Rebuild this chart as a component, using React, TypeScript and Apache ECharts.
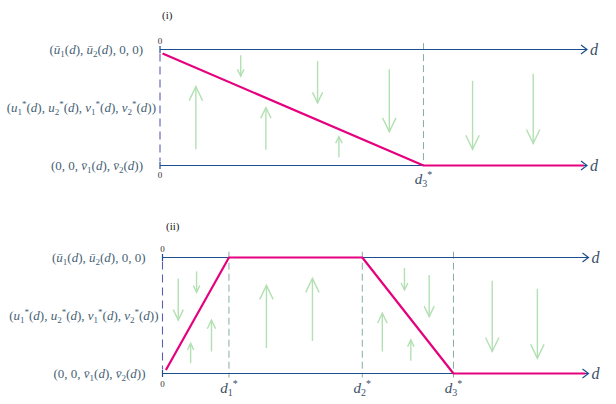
import React, { useEffect, useRef } from 'react';
import * as echarts from 'echarts';

// ---- data ----
const panelTitles = ['(i)', '(ii)'];
// state labels for y = 0, 0.5, 1
const stateLabels = [
  '(0, 0, v\u0304_1(d), v\u0304_2(d))',
  '(u_1^*(d), u_2^*(d), v_1^*(d), v_2^*(d))',
  '(\u016B_1(d), \u016B_2(d), 0, 0)',
];
const axisLevels = [0, 1];
const thresholdsI = [61.7];
const thresholdLabelsI = ['d_3^*'];
const thresholdsII = [15.6, 46.9, 68.3];
const thresholdLabelsII = ['d_1^*', 'd_2^*', 'd_3^*'];
const pathI = [[0.6, 0.966], [61.7, 0], [99.3, 0]];
const pathII = [[0.8, 0.03], [15.6, 1], [46.9, 1], [68.3, 0], [99.3, 0]];
// [x, from, to]
const arrowsI = [
  [8.4, 0.14, 0.68], [18.9, 0.95, 0.77], [24.8, 0.135, 0.5], [36.9, 0.9, 0.54],
  [41.9, 0.07, 0.25], [53.7, 0.83, 0.29], [73.2, 0.73, 0.14], [87.4, 0.79, 0.19],
];
const arrowsII = [
  [3.7, 0.82, 0.46], [8.0, 0.88, 0.7], [6.6, 0.09, 0.26], [11.5, 0.19, 0.46],
  [24.4, 0.22, 0.76], [35.2, 0.28, 0.82], [56.8, 0.91, 0.72], [62.6, 0.85, 0.49],
  [51.6, 0.19, 0.52], [58.3, 0.11, 0.29], [77.4, 0.8, 0.19], [88.0, 0.73, 0.13],
];

const SERIF = '"Liberation Serif", "DejaVu Serif", serif';
const LABEL_C = '#465f74';
const AXIS_C = '#1d4f8e';
const GREEN = '#b3e0b3';
const MAGENTA = '#e6007e';

function tex(s: string): string {
  let out = '';
  let i = 0;
  const push = (st: string, t: string) => { out += '{' + st + '|' + t + '}'; };
  const isLetter = (c: string) => /[A-Za-z\u016B]/.test(c);
  while (i < s.length) {
    const c = s[i];
    if (c === '_') { push('sub', s[i + 1]); i += 2; continue; }
    if (c === '^') { push('sup', s[i + 1]); i += 2; continue; }
    if (isLetter(c)) {
      let t = c;
      if (s[i + 1] === '\u0304') { t += s[i + 1]; i++; }
      push('it', t); i++; continue;
    }
    let t = '';
    while (i < s.length && !isLetter(s[i]) && s[i] !== '_' && s[i] !== '^') { t += s[i]; i++; }
    push('n', t);
  }
  return out;
}

function richStyles(size: number, color: string, sub: number) {
  return {
    n: { fontFamily: SERIF, fontSize: size, color, lineHeight: size + 4 },
    it: { fontFamily: SERIF, fontSize: size, fontStyle: 'italic', color, lineHeight: size + 4 },
    sub: { fontFamily: SERIF, fontSize: sub, color, lineHeight: sub + 1, verticalAlign: 'bottom' },
    sup: { fontFamily: SERIF, fontSize: sub, color, lineHeight: sub + 1, verticalAlign: 'top' },
    z: { fontFamily: SERIF, fontSize: 9, color: '#333', lineHeight: 10 },
    gap: { width: 13, fontSize: size, lineHeight: size + 4 },
  };
}

const grids = [
  { left: 160, top: 49.5, width: 427, height: 116 },
  { left: 162.5, top: 257.5, width: 426, height: 116 },
];

export default function App() {
  const ref = useRef<HTMLDivElement>(null);
  useEffect(() => {
    if (!ref.current) return;
    const chart = echarts.init(ref.current, null, { renderer: 'svg' });
    const thresholds = [thresholdsI, thresholdsII];
    const thresholdLabels = [thresholdLabelsI, thresholdLabelsII];
    const paths = [pathI, pathII];
    const arrows = [arrowsI, arrowsII];

    const xAxis: any[] = [];
    const yAxis: any[] = [];
    const series: any[] = [];
    grids.forEach((_, g) => {
      const th = thresholds[g];
      const thl = thresholdLabels[g];
      xAxis.push({
        gridIndex: g, type: 'value', min: 0, max: 100, position: 'bottom',
        axisLine: { show: false }, axisTick: { show: false }, splitLine: { show: false },
        name: 'd', nameLocation: 'end', nameGap: 3,
        nameTextStyle: { fontFamily: SERIF, fontStyle: 'italic', fontSize: 16, color: '#3b506a', verticalAlign: 'middle' },
        axisLabel: {
          customValues: [0, ...th], margin: g === 0 ? 4 : 5,
          formatter: (v: number) => (v === 0 ? '{z|0}' : tex(thl[th.indexOf(v)])),
          rich: richStyles(15, '#3b506a', 10),
        },
      });
      xAxis.push({
        gridIndex: g, type: 'value', min: 0, max: 100, position: 'top',
        axisLine: { show: false }, axisTick: { show: false }, splitLine: { show: false },
        name: 'd', nameLocation: 'end', nameGap: 3,
        nameTextStyle: { fontFamily: SERIF, fontStyle: 'italic', fontSize: 16, color: '#3b506a', verticalAlign: 'middle' },
        axisLabel: { customValues: [0], margin: 4, formatter: () => '{z|0}', rich: richStyles(14, '#333', 9) },
      });
      yAxis.push({
        gridIndex: g, type: 'value', min: 0, max: 1, interval: 0.5,
        axisLine: { show: false }, axisTick: { show: false }, splitLine: { show: false },
        axisLabel: {
          margin: 4,
          formatter: (v: number) => {
            const k = Math.round(v * 2);
            return tex(stateLabels[k]) + (k === 1 ? '' : '{gap| }');
          },
          rich: richStyles(13, LABEL_C, 9),
        },
      });
      const xi = g * 2;
      // threshold dashed lines
      series.push({
        type: 'custom', xAxisIndex: xi, yAxisIndex: g, z: 1,
        data: th.map((x) => [x, g === 0 ? 1.055 : 1.05, g === 0 ? 0 : -0.035]),
        renderItem: (_p: any, api: any) => {
          const a = api.coord([api.value(0), api.value(1)]);
          const b = api.coord([api.value(0), api.value(2)]);
          return { type: 'line', shape: { x1: a[0], y1: a[1], x2: b[0], y2: b[1] },
            style: { stroke: '#86ad9f', lineWidth: 1, lineDash: [7, 4] } };
        },
      });
      // left dashed line at x = 0
      series.push({
        type: 'custom', xAxisIndex: xi, yAxisIndex: g, z: 1,
        data: [[0, 1, 0]],
        renderItem: (_p: any, api: any) => {
          const a = api.coord([api.value(0), api.value(1)]);
          const b = api.coord([api.value(0), api.value(2)]);
          return { type: 'line', shape: { x1: a[0], y1: a[1] + 4, x2: b[0], y2: b[1] - 4 },
            style: { stroke: '#5a5fb5', lineWidth: 1.1, lineDash: [8, 5] } };
        },
      });
      // green arrows
      series.push({
        type: 'custom', xAxisIndex: xi, yAxisIndex: g, z: 2,
        data: arrows[g],
        renderItem: (_p: any, api: any) => {
          const p0 = api.coord([api.value(0), api.value(1)]);
          const p1 = api.coord([api.value(0), api.value(2)]);
          const len = Math.abs(p1[1] - p0[1]);
          const dir = p1[1] < p0[1] ? -1 : 1;
          const hl = Math.max(5, Math.min(14, 0.18 * len + 3));
          const hw = hl * 0.48;
          return {
            type: 'group',
            children: [
              { type: 'line', shape: { x1: p0[0], y1: p0[1], x2: p1[0], y2: p1[1] }, style: { stroke: GREEN, lineWidth: 1.4 } },
              { type: 'polyline', shape: { points: [[p1[0] - hw, p1[1] - dir * hl], [p1[0], p1[1]], [p1[0] + hw, p1[1] - dir * hl]] },
                style: { stroke: GREEN, fill: null, lineWidth: 1.4 } },
            ],
          };
        },
      });
      // axis lines with arrows
      series.push({
        type: 'custom', xAxisIndex: xi, yAxisIndex: g, z: 3,
        data: axisLevels.map((y) => [0, y]),
        renderItem: (_p: any, api: any) => {
          const y = api.value(1);
          const a = api.coord([0, y]);
          const b = api.coord([100, y]);
          return {
            type: 'group',
            children: [
              { type: 'line', shape: { x1: a[0], y1: a[1], x2: b[0] - 0.5, y2: b[1] }, style: { stroke: AXIS_C, lineWidth: 1.2 } },
              { type: 'polyline', shape: { points: [[b[0] - 6, b[1] - 4.5], [b[0], b[1]], [b[0] - 6, b[1] + 4.5]] },
                style: { stroke: AXIS_C, fill: null, lineWidth: 1.2 } },
              { type: 'line', shape: { x1: a[0], y1: a[1] - 3.5, x2: a[0], y2: a[1] + 3.5 }, style: { stroke: AXIS_C, lineWidth: 1.2 } },
            ],
          };
        },
      });
      // magenta path
      series.push({
        type: 'line', xAxisIndex: xi, yAxisIndex: g, z: 4, clip: false,
        data: paths[g], showSymbol: false, symbol: 'none',
        lineStyle: { color: MAGENTA, width: 2.2 },
      });
    });

    chart.setOption({
      animation: false,
      backgroundColor: '#ffffff',
      title: [
        { text: panelTitles[0], left: 157, top: 4, textStyle: { fontFamily: SERIF, fontSize: 11, fontWeight: 'normal', color: '#222' } },
        { text: panelTitles[1], left: 161, top: 215, textStyle: { fontFamily: SERIF, fontSize: 11, fontWeight: 'normal', color: '#222' } },
      ],
      grid: grids.map((g) => ({ ...g, containLabel: false, outerBoundsMode: 'none' })),
      xAxis,
      yAxis,
      series,
    });
    return () => chart.dispose();
  }, []);
  return <div ref={ref} style={{ position: 'fixed', left: 0, top: 0, width: 616, height: 404 }} />;
}
